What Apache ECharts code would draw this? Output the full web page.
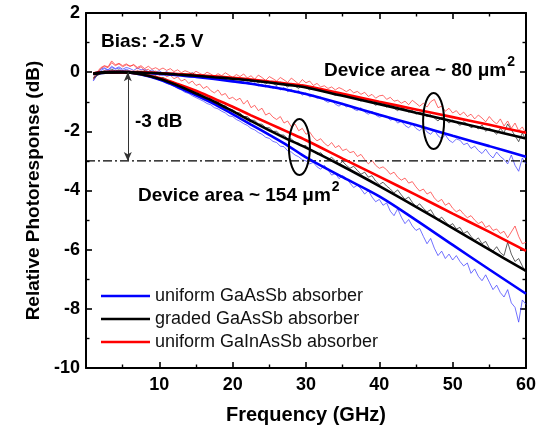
<!DOCTYPE html>
<html>
<head>
<meta charset="utf-8">
<script src="https://cdn.jsdelivr.net/npm/echarts@6/dist/echarts.min.js"></script>
<style>html,body{margin:0;padding:0;background:#fff;}#c{width:554px;height:435px;}</style>
</head>
<body>
<div id="c"></div>
<script>
// ---- Data ----
const legendNames = ['uniform GaAsSb absorber', 'graded GaAsSb absorber', 'uniform GaInAsSb absorber'];
const xTicks = [10, 20, 30, 40, 50, 60];
const yTicks = [2, 0, -2, -4, -6, -8, -10];

// measured frequency points (GHz)
const measFreq = [
  1,1.5,2,2.5,3,3.5,4,4.5,5,5.5,
  6,6.5,7,7.5,8,8.5,9,9.5,10,10.5,
  11,11.5,12,12.5,13,13.5,14,14.5,15,15.5,
  16,16.5,17,17.5,18,18.5,19,19.5,20,20.5,
  21,21.5,22,22.5,23,23.5,24,24.5,25,25.5,
  26,26.5,27,27.5,28,28.5,29,29.5,30,30.5,
  31,31.5,32,32.5,33,33.5,34,34.5,35,35.5,
  36,36.5,37,37.5,38,38.5,39,39.5,40,40.5,
  41,41.5,42,42.5,43,43.5,44,44.5,45,45.5,
  46,46.5,47,47.5,48,48.5,49,49.5,50,50.5,
  51,51.5,52,52.5,53,53.5,54,54.5,55,55.5,
  56,56.5,57,57.5,58,58.5,59,59.5,60
];

// Device area ~ 80 um^2, measured
const small80UniformGaAsSbMeas = [
  -0.3,-0.08,0.1,0.15,0.08,0.2,0.12,0.18,0.1,0.16,
  0.12,0.06,0.14,0.08,0.1,0.02,0.08,0.0,0.05,-0.04,
  0.02,-0.06,-0.02,-0.1,-0.04,-0.12,-0.08,-0.15,-0.1,-0.18,
  -0.13,-0.2,-0.15,-0.25,-0.18,-0.28,-0.22,-0.32,-0.26,-0.35,
  -0.3,-0.38,-0.33,-0.42,-0.36,-0.46,-0.4,-0.5,-0.44,-0.55,
  -0.48,-0.6,-0.52,-0.66,-0.58,-0.7,-0.62,-0.78,-0.7,-0.84,
  -0.78,-0.88,-0.84,-0.95,-1.02,-0.96,-1.08,-1.15,-1.05,-1.18,
  -1.12,-1.25,-1.3,-1.2,-1.35,-1.42,-1.32,-1.45,-1.52,-1.48,
  -1.5,-1.62,-1.58,-1.72,-1.66,-1.8,-1.88,-1.75,-1.9,-1.98,
  -1.85,-2.02,-2.1,-1.95,-2.15,-2.25,-2.12,-2.3,-2.38,-2.26,
  -2.3,-2.45,-2.4,-2.58,-2.5,-2.65,-2.75,-2.6,-2.78,-2.9,
  -2.7,-2.85,-2.95,-3.1,-2.8,-3.15,-3.35,-2.9,-3.1
];
const small80GradedGaAsSbMeas = [
  -0.18,-0.1,-0.02,0.05,0.02,0.1,0.04,0.08,0.0,0.06,
  0.03,-0.02,0.04,0.0,0.05,-0.03,0.02,-0.04,0.0,-0.06,
  -0.02,-0.08,-0.03,-0.1,-0.05,-0.12,-0.07,-0.02,-0.11,-0.15,
  -0.09,-0.14,-0.2,-0.12,-0.17,-0.24,-0.15,-0.22,-0.28,-0.19,
  -0.25,-0.3,-0.2,-0.33,-0.27,-0.36,-0.29,-0.4,-0.32,-0.38,
  -0.45,-0.34,-0.42,-0.5,-0.38,-0.47,-0.55,-0.43,-0.52,-0.6,
  -0.5,-0.6,-0.58,-0.68,-0.62,-0.72,-0.78,-0.7,-0.82,-0.76,
  -0.85,-0.8,-0.92,-0.98,-0.9,-1.02,-1.0,-1.12,-1.05,-1.1,
  -1.18,-1.1,-1.22,-1.3,-1.2,-1.25,-1.35,-1.3,-1.42,-1.36,
  -1.4,-1.5,-1.44,-1.55,-1.65,-1.52,-1.6,-1.72,-1.62,-1.7,
  -1.8,-1.68,-1.75,-1.88,-1.82,-1.92,-1.78,-2.0,-1.9,-1.98,
  -2.1,-1.9,-2.05,-1.75,-1.95,-2.15,-2.35,-2.05,-2.3
];
const small80UniformGaInAsSbMeas = [
  -0.25,-0.05,0.12,0.2,0.15,0.32,0.22,0.28,0.18,0.25,
  0.2,0.26,0.16,0.22,0.12,0.2,0.1,0.15,0.08,0.14,
  0.06,0.12,0.02,0.08,-0.02,0.05,0.0,-0.06,0.03,-0.04,
  -0.1,0.0,-0.06,-0.14,-0.05,-0.12,-0.02,-0.1,-0.18,-0.08,
  -0.15,-0.06,-0.2,-0.12,-0.24,-0.1,-0.18,-0.28,-0.15,-0.22,
  -0.3,-0.18,-0.26,-0.35,-0.2,-0.3,-0.4,-0.25,-0.36,-0.3,
  -0.45,-0.38,-0.5,-0.46,-0.55,-0.5,-0.6,-0.52,-0.58,-0.66,
  -0.58,-0.7,-0.65,-0.75,-0.68,-0.82,-0.75,-0.88,-0.8,-0.78,
  -0.92,-0.85,-0.98,-0.95,-1.05,-0.98,-1.1,-0.95,-1.05,-1.15,
  -1.05,-1.18,-1.0,-0.92,-1.2,-1.15,-1.32,-1.22,-1.38,-1.3,
  -1.45,-1.35,-1.5,-1.42,-1.58,-1.45,-1.55,-1.68,-1.5,-1.65,
  -1.75,-1.58,-1.82,-1.65,-1.9,-1.72,-1.98,-1.85,-2.08
];

// Device area ~ 154 um^2, measured
const large154UniformGaAsSbMeas = [
  -0.28,-0.1,0.05,0.12,0.06,0.16,0.1,0.14,0.05,0.1,
  0.04,0.0,-0.05,-0.02,-0.1,-0.12,-0.18,-0.2,-0.28,-0.3,
  -0.38,-0.42,-0.48,-0.55,-0.6,-0.68,-0.72,-0.8,-0.86,-0.92,
  -0.98,-1.06,-1.1,-1.2,-1.24,-1.32,-1.38,-1.48,-1.5,-1.6,
  -1.66,-1.74,-1.8,-1.9,-1.95,-2.04,-2.1,-2.2,-2.24,-2.34,
  -2.38,-2.5,-2.52,-2.66,-2.7,-2.8,-2.86,-2.96,-3.0,-3.1,
  -3.05,-3.2,-3.28,-3.15,-3.3,-3.48,-3.42,-3.6,-3.5,-3.58,
  -3.75,-3.9,-3.82,-3.95,-4.12,-4.0,-4.22,-4.38,-4.3,-4.5,
  -4.42,-4.7,-4.85,-4.62,-4.9,-5.12,-4.98,-5.2,-5.35,-5.28,
  -5.55,-5.8,-5.62,-5.95,-6.2,-6.05,-6.3,-6.15,-6.35,-6.2,
  -6.4,-6.55,-6.45,-6.8,-6.65,-6.9,-7.05,-6.85,-7.1,-7.35,
  -7.2,-7.45,-7.6,-7.35,-7.8,-7.95,-8.45,-7.7,-7.85
];
const large154GradedGaAsSbMeas = [
  -0.22,-0.12,-0.05,0.02,-0.03,0.06,0.0,0.04,-0.03,0.02,
  -0.02,0.0,-0.06,-0.03,-0.1,-0.08,-0.15,-0.12,-0.2,-0.18,
  -0.24,-0.32,-0.34,-0.42,-0.44,-0.53,-0.55,-0.63,-0.66,-0.75,
  -0.78,-0.88,-0.9,-1.0,-1.02,-1.12,-1.14,-1.24,-1.27,-1.36,
  -1.38,-1.5,-1.5,-1.62,-1.63,-1.75,-1.76,-1.88,-1.88,-2.0,
  -2.0,-2.12,-2.13,-2.26,-2.25,-2.38,-2.4,-2.5,-2.48,-2.62,
  -2.65,-2.78,-2.72,-2.85,-2.95,-2.88,-3.0,-3.12,-3.02,-3.15,
  -3.25,-3.18,-3.32,-3.45,-3.38,-3.55,-3.5,-3.68,-3.8,-3.72,
  -3.85,-3.95,-4.08,-3.98,-4.15,-4.3,-4.22,-4.4,-4.55,-4.45,
  -4.6,-4.72,-4.65,-4.85,-5.0,-4.9,-5.05,-5.2,-5.12,-5.3,
  -5.25,-5.45,-5.38,-5.55,-5.7,-5.6,-5.8,-5.72,-5.95,-6.05,
  -5.9,-6.1,-6.2,-5.75,-6.15,-6.4,-6.3,-6.55,-6.8
];
const large154UniformGaInAsSbMeas = [
  -0.2,0.0,0.15,0.22,0.18,0.38,0.25,0.3,0.22,0.28,
  0.2,0.24,0.12,0.18,0.06,0.1,-0.02,0.04,-0.1,-0.05,
  -0.15,-0.1,-0.22,-0.16,-0.3,-0.24,-0.38,-0.3,-0.45,-0.4,
  -0.55,-0.48,-0.62,-0.7,-0.6,-0.78,-0.72,-0.9,-0.85,-0.95,
  -0.88,-1.08,-0.95,-1.2,-1.12,-1.3,-1.22,-1.45,-1.38,-1.52,
  -1.6,-1.5,-1.72,-1.65,-1.85,-1.75,-1.98,-1.9,-2.1,-2.02,
  -2.2,-2.32,-2.25,-2.4,-2.5,-2.38,-2.55,-2.48,-2.65,-2.6,
  -2.72,-2.68,-2.85,-2.78,-2.95,-3.1,-2.98,-3.15,-3.25,-3.2,
  -3.3,-3.45,-3.38,-3.55,-3.65,-3.58,-3.75,-3.7,-3.88,-4.02,
  -3.95,-4.12,-4.05,-4.25,-4.38,-4.3,-4.5,-4.42,-4.6,-4.72,
  -4.65,-4.8,-4.92,-4.85,-5.0,-5.12,-5.05,-5.25,-5.18,-5.35,
  -5.3,-5.45,-5.38,-5.6,-5.4,-5.2,-5.55,-5.8,-5.75
];

// fitted curves
const fitFreq = [1,3,5,7.5,10,12.5,15,17.5,20,22.5,25,27.5,30,35,40,45,50,55,60];
const small80UniformGaAsSbFit   = [-0.05,0,0,-0.02,-0.06,-0.1,-0.16,-0.23,-0.31,-0.39,-0.49,-0.6,-0.74,-1.08,-1.44,-1.79,-2.15,-2.5,-2.86];
const small80GradedGaAsSbFit    = [-0.05,0,0,-0.01,-0.04,-0.08,-0.12,-0.17,-0.22,-0.28,-0.35,-0.43,-0.52,-0.8,-1.08,-1.37,-1.66,-1.95,-2.24];
const small80UniformGaInAsSbFit = [-0.04,0,0,0,-0.03,-0.06,-0.1,-0.14,-0.19,-0.25,-0.32,-0.39,-0.47,-0.73,-1.0,-1.26,-1.52,-1.78,-2.05];
const large154UniformGaAsSbFit   = [-0.06,-0.01,0,-0.08,-0.25,-0.5,-0.78,-1.08,-1.42,-1.77,-2.12,-2.48,-2.88,-3.55,-4.2,-5.0,-5.84,-6.67,-7.49];
const large154GradedGaAsSbFit    = [-0.06,-0.01,0,-0.07,-0.22,-0.45,-0.72,-1.0,-1.32,-1.65,-1.97,-2.27,-2.55,-3.18,-3.85,-4.55,-5.27,-6.0,-6.72];
const large154UniformGaInAsSbFit = [-0.05,0,0,-0.06,-0.2,-0.4,-0.63,-0.9,-1.17,-1.46,-1.74,-2.02,-2.3,-2.92,-3.53,-4.15,-4.78,-5.4,-6.04];

// reference level and annotation anchors (data units)
const refLevel = -3;
const refRange = [0, 60];
const arrowFreq = 5.7;
const ellipseCenters = [[47.4, -1.65], [29.1, -2.53]];

// ---- Chart ----
const FONT = '"Liberation Sans", Arial, Helvetica, sans-serif';
const BLUE = '#0000ff', BLACK = '#000000', RED = '#ff0000';
const pair = (xs, ys) => xs.map((x, i) => [x, ys[i]]);

function measSeries(id, vals, color) {
  return { name: id, type: 'line', data: pair(measFreq, vals), symbol: 'none', silent: true, z: 2,
    lineStyle: { color: color, width: 0.9, opacity: 0.8 } };
}
function fitSeries(name, vals, color) {
  return { name: name, type: 'line', data: pair(fitFreq, vals), symbol: 'none', smooth: 0.35, silent: true, z: 4,
    itemStyle: { color: color }, lineStyle: { color: color, width: 2.6 } };
}

const chart = echarts.init(document.getElementById('c'), null, { renderer: 'canvas' });

const tickCommon = {
  axisLine: { show: true, onZero: false, lineStyle: { color: '#000', width: 2 } },
  axisTick: { show: true, inside: true, length: 6, lineStyle: { color: '#000', width: 1.6 } },
  minorTick: { show: true, splitNumber: 2, length: 3.5, lineStyle: { color: '#000', width: 1.4 } },
  splitLine: { show: false }, minorSplitLine: { show: false }
};

chart.setOption({
  animation: false,
  backgroundColor: '#fff',
  grid: { left: 86, right: 28, top: 13, bottom: 67 },
  legend: {
    data: legendNames, orient: 'vertical', left: 101, top: 287, padding: 0,
    icon: 'rect', itemWidth: 49, itemHeight: 2.6, itemGap: 5,
    textStyle: { fontFamily: FONT, fontSize: 18, color: '#111' },
    selectedMode: false
  },
  xAxis: [
    Object.assign({ type: 'value', min: 0, max: 60, interval: 10, position: 'bottom',
      name: 'Frequency (GHz)', nameLocation: 'middle', nameGap: 37,
      nameTextStyle: { fontFamily: FONT, fontSize: 20, fontWeight: 'bold', color: '#000' },
      axisLabel: { margin: 8, fontFamily: FONT, fontSize: 18, fontWeight: 'bold', color: '#000',
        formatter: v => (xTicks.indexOf(v) >= 0 ? String(v) : '') } }, tickCommon),
    Object.assign({ type: 'value', min: 0, max: 60, interval: 10, position: 'top',
      axisLabel: { show: false } }, tickCommon)
  ],
  yAxis: [
    Object.assign({ type: 'value', min: -10, max: 2, interval: 2, position: 'left',
      name: 'Relative Photoresponse (dB)', nameLocation: 'middle', nameGap: 43,
      nameTextStyle: { fontFamily: FONT, fontSize: 19, fontWeight: 'bold', color: '#000' },
      axisLabel: { margin: 6, fontFamily: FONT, fontSize: 18, fontWeight: 'bold', color: '#000',
        formatter: v => (yTicks.indexOf(v) >= 0 ? String(v) : '') } }, tickCommon),
    Object.assign({ type: 'value', min: -10, max: 2, interval: 2, position: 'right',
      axisLabel: { show: false } }, tickCommon)
  ],
  series: [
    measSeries('m80-blue', small80UniformGaAsSbMeas, '#3b3bff'),
    measSeries('m154-blue', large154UniformGaAsSbMeas, '#3b3bff'),
    measSeries('m80-red', small80UniformGaInAsSbMeas, '#ff3030'),
    measSeries('m154-red', large154UniformGaInAsSbMeas, '#ff3030'),
    measSeries('m80-black', small80GradedGaAsSbMeas, '#222'),
    measSeries('m154-black', large154GradedGaAsSbMeas, '#222'),
    fitSeries(legendNames[0], small80UniformGaAsSbFit, BLUE),
    fitSeries(legendNames[0], large154UniformGaAsSbFit, BLUE),
    fitSeries(legendNames[2], small80UniformGaInAsSbFit, RED),
    fitSeries(legendNames[2], large154UniformGaInAsSbFit, RED),
    fitSeries(legendNames[1], small80GradedGaAsSbFit, BLACK),
    fitSeries(legendNames[1], large154GradedGaAsSbFit, BLACK),
    {
      name: 'ref', type: 'line', silent: true, symbol: 'none', z: 3,
      data: [[refRange[0], refLevel], [refRange[1], refLevel]],
      lineStyle: { color: '#000', width: 1.2, type: [9, 3, 2, 3] },
      markLine: {
        silent: true, symbol: ['arrow', 'arrow'], symbolSize: [6, 9],
        label: { show: false },
        lineStyle: { color: '#333', width: 1, type: 'solid' },
        data: [[{ coord: [arrowFreq, 0] }, { coord: [arrowFreq, refLevel] }]]
      }
    },
    {
      name: 'ellipses', type: 'custom', silent: true, z: 6, data: ellipseCenters,
      renderItem: function (params, api) {
        const p = api.coord([api.value(0), api.value(1)]);
        return { type: 'ellipse', shape: { cx: p[0], cy: p[1], rx: 10.5, ry: 28 },
          style: { fill: null, stroke: '#000', lineWidth: 2 } };
      }
    }
  ],
  graphic: [
    { type: 'text', left: 101, top: 32, silent: true,
      style: { text: 'Bias: -2.5 V', fontFamily: FONT, fontSize: 19, fontWeight: 'bold', fill: '#000' } },
    { type: 'text', left: 135, top: 112, silent: true,
      style: { text: '-3 dB', fontFamily: FONT, fontSize: 19, fontWeight: 'bold', fill: '#000' } },
    { type: 'text', left: 324, top: 55, silent: true,
      style: { text: '{a|Device area ~ 80 μm}{s|2}', fill: '#000',
        rich: { a: { fontFamily: FONT, fontSize: 19, fontWeight: 'bold', verticalAlign: 'bottom' },
                s: { fontFamily: FONT, fontSize: 14, fontWeight: 'bold', verticalAlign: 'bottom', padding: [0, 0, 11, 1] } } } },
    { type: 'text', left: 138, top: 180, silent: true,
      style: { text: '{a|Device area ~ 154 μm}{s|2}', fill: '#000',
        rich: { a: { fontFamily: FONT, fontSize: 19, fontWeight: 'bold', verticalAlign: 'bottom' },
                s: { fontFamily: FONT, fontSize: 14, fontWeight: 'bold', verticalAlign: 'bottom', padding: [0, 0, 11, 1] } } } }
  ]
});
</script>
</body>
</html>
